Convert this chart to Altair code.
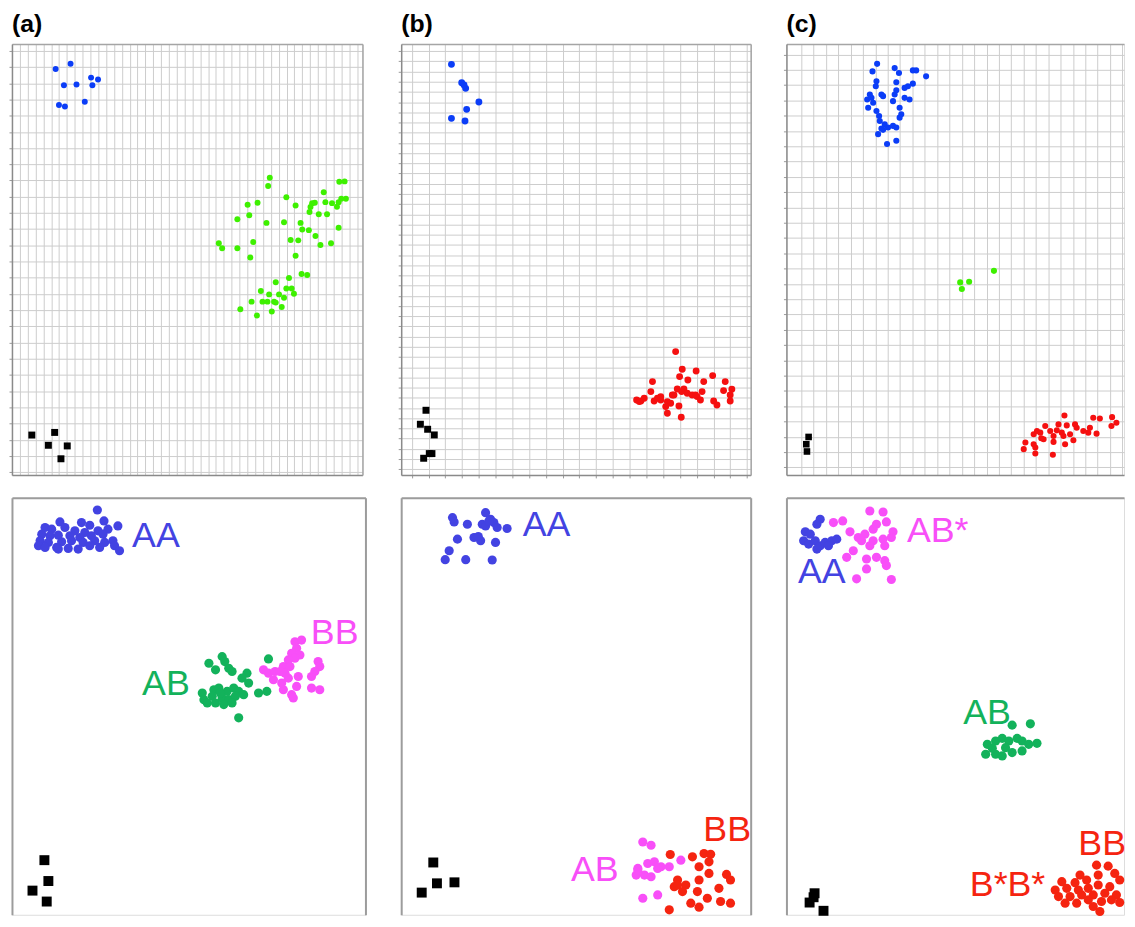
import altair as alt
import pandas as pd

# ---------------- data (signal units; y measured upward) ----------------
# Top (a)
TA_XX_X = [132, 177, 157, 195, 239, 260, 243, 220, 142, 160]
TA_XX_Y = [1232, 1248, 1183, 1185, 1206, 1200, 1183, 1133, 1123, 1118]
TA_XY_X = [779, 774, 989, 1005, 942, 829, 712, 742, 857, 907, 915, 947, 967, 987, 1009, 995, 902, 982, 899, 927,
           952, 717, 681, 769, 822, 872, 877, 897, 987, 917, 842, 865, 932, 964, 729, 625, 635, 681, 720, 857,
           875, 892, 837, 797, 829, 845, 752, 777, 807, 852, 822, 724, 757, 772, 792, 815, 785, 690, 740, 797]
TA_XY_Y = [902, 877, 890, 891, 858, 843, 820, 826, 818, 825, 826, 828, 825, 828, 838, 838, 813, 814, 798, 791,
           791, 788, 776, 765, 767, 765, 745, 743, 750, 725, 713, 712, 698, 703, 707, 703, 688, 688, 660, 665,
           610, 607, 598, 585, 566, 566, 558, 548, 548, 550, 538, 526, 526, 526, 526, 510, 496, 503, 484, 523]
TA_NTC_X = [60, 129, 110, 167, 148]
TA_NTC_Y = [121, 129, 90, 88, 49]

# Top (b)
TB_XX_X = [152, 183, 195, 190, 235, 198, 152, 193]
TB_XX_Y = [1232, 1177, 1160, 1170, 1119, 1097, 1070, 1062]
TB_YY_X = [830, 850, 892, 942, 842, 867, 760, 915, 980, 755, 835, 855, 848, 825, 865, 880, 910, 975, 1000, 785,
           712, 725, 735, 765, 785, 805, 895, 905, 945, 955, 995, 995, 815, 840, 805, 847, 890, 820, 720, 775, 800]
TB_YY_Y = [370, 317, 312, 298, 295, 285, 280, 280, 280, 250, 258, 258, 250, 240, 245, 240, 250, 253, 257, 235,
           225, 222, 230, 222, 225, 220, 235, 225, 222, 210, 240, 222, 215, 207, 185, 173, 240, 240, 220, 230, 205]
TB_NTC_X = [75, 58, 80, 100, 68, 85, 93]
TB_NTC_Y = [194, 152, 137, 120, 50, 64, 64]

# Top (c)
TC_XX_X = [274, 260, 327, 340, 382, 392, 422, 272, 332, 382, 367, 357, 270, 252, 287, 292, 332, 327, 244, 257,
           262, 322, 357, 372, 342, 347, 342, 247, 272, 280, 282, 297, 307, 322, 332, 292, 277, 332, 304, 287]
TC_XX_Y = [1245, 1222, 1232, 1217, 1225, 1225, 1207, 1192, 1189, 1185, 1177, 1172, 1177, 1152, 1152, 1147, 1165,
           1152, 1137, 1142, 1127, 1132, 1142, 1137, 1112, 1092, 1082, 1112, 1102, 1087, 1072, 1062, 1052, 1057,
           1052, 1045, 1032, 1012, 1002, 1049]
TC_XY_X = [525, 552, 530, 627]
TC_XY_Y = [583, 585, 563, 618]
TC_YY_X = [840, 927, 947, 984, 997, 982, 822, 847, 872, 782, 917, 912, 937, 757, 767, 797, 832, 857, 877, 747,
           777, 807, 837, 722, 747, 807, 842, 867, 717, 752, 752, 805, 770, 817, 897]
TC_YY_Y = [180, 173, 171, 175, 158, 148, 153, 150, 153, 148, 143, 128, 125, 133, 128, 133, 128, 123, 143, 123,
           108, 118, 118, 98, 93, 100, 93, 105, 78, 83, 65, 61, 111, 135, 133]
TC_NTC_X = [67, 60, 62]
TC_NTC_Y = [115, 93, 71]

# Bottom (a)
BA_AA_X = [258, 145, 210, 278, 235, 100, 120, 160, 190, 220, 260, 290, 320, 90, 115, 140, 175, 205, 240, 275,
           85, 110, 150, 180, 215, 250, 280, 305, 80, 135, 170, 200, 235, 265, 310, 325, 140, 100]
BA_AA_Y = [1249, 1213, 1211, 1216, 1203, 1196, 1191, 1196, 1186, 1181, 1186, 1191, 1201, 1176, 1171, 1173, 1171,
           1166, 1171, 1176, 1156, 1151, 1153, 1156, 1151, 1156, 1151, 1156, 1141, 1136, 1133, 1131, 1141, 1136,
           1141, 1126, 1131, 1136]
BA_AB_X = [595, 635, 643, 615, 655, 665, 710, 695, 775, 715, 575, 610, 625, 650, 670, 685, 580, 605, 615, 635,
           655, 675, 700, 745, 770, 685, 590, 640, 665, 630]
BA_AB_Y = [786, 806, 791, 766, 771, 761, 756, 741, 799, 726, 696, 706, 711, 701, 711, 701, 676, 686, 666, 681,
           676, 686, 691, 696, 701, 621, 666, 661, 666, 696]
BA_BB_X = [855, 875, 860, 845, 870, 855, 835, 820, 840, 760, 775, 795, 810, 825, 835, 790, 865, 905, 925, 930,
           915, 820, 845, 860, 905, 930, 815, 850]
BA_BB_Y = [851, 856, 831, 816, 811, 801, 796, 776, 776, 766, 756, 761, 761, 756, 741, 736, 746, 746, 791, 776,
           761, 706, 691, 716, 711, 706, 726, 681]
BA_NTC_X = [98, 110, 62, 105]
BA_NTC_Y = [191, 128, 99, 66]
BA_LABELS = ["AA", "AB", "BB"]
BA_LABEL_GRP = ["AA", "AB", "BB"]
BA_LABEL_X = [363, 393, 903]
BA_LABEL_Y = [1138, 691, 844]

# Bottom (b)
BB_AA_X = [155, 160, 200, 255, 245, 270, 280, 290, 320, 255, 170, 220, 240, 285, 145, 133, 195, 275, 265, 233]
BB_AA_Y = [1226, 1213, 1206, 1241, 1206, 1221, 1211, 1196, 1193, 1201, 1161, 1166, 1156, 1151, 1126, 1099, 1099,
           1098, 1216, 1169]
BB_AB_X = [730, 755, 745, 765, 785, 810, 845, 715, 710, 735, 755, 775, 730, 775, 715]
BB_AB_Y = [246, 236, 181, 186, 171, 171, 191, 166, 146, 146, 141, 166, 76, 86, 161]
BB_BB_X = [813, 880, 915, 935, 900, 930, 930, 983, 995, 835, 860, 825, 850, 900, 895, 960, 925, 875, 900, 965,
           995, 810, 835]
BB_BB_Y = [208, 201, 211, 209, 171, 186, 151, 148, 131, 131, 116, 111, 96, 131, 96, 106, 76, 61, 49, 66, 61, 41, 116]
BB_NTC_X = [97, 108, 161, 62]
BB_NTC_Y = [184, 121, 124, 93]
BB_LABELS = ["AA", "AB", "BB"]
BB_LABEL_GRP = ["AA", "AB", "BB"]
BB_LABEL_X = [367, 513, 913]
BB_LABEL_Y = [1169, 128, 248]

# Bottom (c)
BC_AA_X = [102, 92, 57, 72, 52, 67, 87, 102, 117, 137, 152, 92, 127]
BC_AA_Y = [1221, 1206, 1183, 1176, 1156, 1146, 1156, 1141, 1151, 1156, 1161, 1131, 1141]
BC_ABS_X = [252, 292, 142, 170, 192, 217, 237, 262, 272, 302, 322, 317, 227, 262, 292, 297, 202, 182, 242, 272,
            297, 302, 242, 212, 317, 252]
BC_ABS_Y = [1246, 1243, 1211, 1216, 1183, 1166, 1176, 1191, 1206, 1213, 1183, 1166, 1156, 1156, 1161, 1141, 1126,
            1106, 1101, 1106, 1096, 1081, 1071, 1041, 1039, 1141]
BC_AB_X = [682, 737, 607, 632, 652, 672, 697, 712, 732, 757, 602, 632, 652, 682, 712, 662, 622]
BC_AB_Y = [599, 603, 541, 551, 559, 551, 559, 551, 541, 544, 511, 511, 506, 516, 521, 531, 529]
BC_BB_X = [937, 972, 887, 942, 992, 1007, 832, 872, 907, 812, 847, 882, 912, 942, 977, 822, 857, 892, 927, 962,
           997, 842, 877, 912, 952, 1007, 982, 947, 927]
BC_BB_Y = [176, 173, 146, 146, 151, 131, 126, 123, 131, 101, 106, 101, 106, 116, 111, 81, 81, 86, 86, 91, 86, 61,
           61, 71, 66, 63, 71, 36, 51]
BC_NTC_X = [85, 82, 70, 112]
BC_NTC_Y = [91, 79, 63, 38]
BC_LABELS = ["AA", "AB*", "AB", "BB", "B*B*"]
BC_LABEL_GRP = ["AA", "AB*", "AB", "BB", "BB"]
BC_LABEL_X = [35, 364, 534, 882, 554]
BC_LABEL_Y = [1028, 1151, 603, 206, 83]

# ---------------- styling ----------------
TOP_BLUE, TOP_GREEN, TOP_RED = "#0b3df7", "#3ef000", "#f51010"
B_BLUE, B_GREEN, B_MAG, B_RED = "#4343e2", "#13b25b", "#f84ff8", "#f52410"
GRID = "#cdcdcd"
FONT = "Liberation Sans"


def frame(xs, ys, grp):
    return pd.DataFrame({"x": xs, "y": ys, "grp": grp})


def cat(*parts):
    return pd.concat(parts, ignore_index=True)


def axis(orient, values=None, domain=True, dcolor="#8a8a8a", dwidth=1.5, ticks=False):
    if not domain and not values:
        return None
    kw = dict(orient=orient, labels=False, title=None, domain=domain, domainColor=dcolor,
              domainWidth=dwidth, ticks=ticks, tickColor="#9a9a9a", tickSize=3, tickWidth=1)
    if values:
        kw.update(values=values, grid=True, gridColor=GRID, gridWidth=1, gridOpacity=1)
    else:
        kw.update(grid=False)
    return alt.Axis(**kw)


def panel(pts, ntc, W, H, xdom, ydom, cdom, crange, size, sqsize,
          gx=None, gy=None, left_ticks=False, bottom_ticks=False,
          sides=("l", "b", "t", "r"), side_color="#8a8a8a", side_color2="#a5a5a5",
          dwidth=1.5, labels=None, title=None):
    xs = alt.Scale(domain=xdom, nice=False, zero=False)
    ys = alt.Scale(domain=ydom, nice=False, zero=False)
    cs = alt.Scale(domain=cdom, range=crange)
    circ = alt.Chart(pts).mark_circle(size=size, opacity=1).encode(
        x=alt.X("x:Q", scale=xs, axis=axis("bottom", gx, "b" in sides, side_color, dwidth, bottom_ticks)),
        y=alt.Y("y:Q", scale=ys, axis=axis("left", gy, "l" in sides, side_color, dwidth, left_ticks)),
        color=alt.Color("grp:N", scale=cs, legend=None),
    )
    sq = alt.Chart(ntc).mark_square(size=sqsize, color="black", opacity=1).encode(
        x=alt.X("x:Q", scale=xs, axis=axis("top", None, "t" in sides, side_color2, dwidth)),
        y=alt.Y("y:Q", scale=ys, axis=axis("right", None, "r" in sides, side_color2, dwidth)),
    )
    layers = [circ, sq]
    if labels is not None:
        txt = alt.Chart(labels).mark_text(align="left", baseline="alphabetic", font=FONT,
                                          fontSize=36).encode(
            x=alt.X("x:Q", scale=xs, axis=None),
            y=alt.Y("y:Q", scale=ys, axis=None),
            text="label:N",
            color=alt.Color("grp:N", scale=cs, legend=None),
        )
        layers.append(txt)
    ch = alt.layer(*layers).resolve_axis(x="independent", y="independent").properties(width=W, height=H)
    if title:
        ch = ch.properties(title=alt.TitleParams(title, anchor="start", frame="group", fontSize=25,
                                                 fontWeight="bold", font=FONT, color="black", offset=7))
    return ch


TOP_H = 434
BOT_H = 420

# top (a)
ta = panel(cat(frame(TA_XX_X, TA_XX_Y, "X:X"), frame(TA_XY_X, TA_XY_Y, "X:Y")),
           frame(TA_NTC_X, TA_NTC_Y, "NTC"), 353, TOP_H, [0, 1059], [0, 1308],
           ["X:X", "X:Y", "Y:Y"], [TOP_BLUE, TOP_GREEN, TOP_RED], 36, 49,
           gx=[round(23.7 * k, 1) for k in range(45)], gy=[round(8 + 49.2 * k, 1) for k in range(27)],
           left_ticks=True, title="(a)")
# top (b)
tb = panel(cat(frame(TB_XX_X, TB_XX_Y, "X:X"), frame(TB_YY_X, TB_YY_Y, "Y:Y")),
           frame(TB_NTC_X, TB_NTC_Y, "NTC"), 352, TOP_H, [0, 1057], [0, 1293],
           ["X:X", "X:Y", "Y:Y"], [TOP_BLUE, TOP_GREEN, TOP_RED], 48, 49,
           gx=[round(32 + 50.7 * k, 1) for k in range(21)], gy=[round(17 + 30.6 * k, 1) for k in range(42)],
           left_ticks=True, bottom_ticks=True, title="(b)")
# top (c)
tc = panel(cat(frame(TC_XX_X, TC_XX_Y, "X:X"), frame(TC_XY_X, TC_XY_Y, "X:Y"), frame(TC_YY_X, TC_YY_Y, "Y:Y")),
           frame(TC_NTC_X, TC_NTC_Y, "NTC"), 340, TOP_H, [0, 1020], [0, 1305],
           ["X:X", "X:Y", "Y:Y"], [TOP_BLUE, TOP_GREEN, TOP_RED], 38, 44,
           gx=[round(45 + 37.3 * k, 1) for k in range(27)], gy=[round(23 + 46.3 * k, 1) for k in range(28)],
           left_ticks=True, sides=("l", "b", "t"), title="(c)")

BSIDE = "#9c9c9c"
# bottom (a)
ba = panel(cat(frame(BA_AA_X, BA_AA_Y, "AA"), frame(BA_AB_X, BA_AB_Y, "AB"), frame(BA_BB_X, BA_BB_Y, "BB")),
           frame(BA_NTC_X, BA_NTC_Y, "NTC"), 356, BOT_H, [0, 1068], [26, 1286],
           ["AA", "AB", "BB"], [B_BLUE, B_GREEN, B_MAG], 85, 100,
           sides=("l", "t", "r"), side_color=BSIDE, side_color2=BSIDE, dwidth=2,
           labels=pd.DataFrame({"label": BA_LABELS, "grp": BA_LABEL_GRP, "x": BA_LABEL_X, "y": BA_LABEL_Y}))
# bottom (b)
bb = panel(cat(frame(BB_AA_X, BB_AA_Y, "AA"), frame(BB_AB_X, BB_AB_Y, "AB"), frame(BB_BB_X, BB_BB_Y, "BB")),
           frame(BB_NTC_X, BB_NTC_Y, "NTC"), 352, BOT_H, [0, 1056], [26, 1286],
           ["AA", "AB", "BB"], [B_BLUE, B_MAG, B_RED], 85, 100,
           sides=("l", "t", "r"), side_color=BSIDE, side_color2=BSIDE, dwidth=2,
           labels=pd.DataFrame({"label": BB_LABELS, "grp": BB_LABEL_GRP, "x": BB_LABEL_X, "y": BB_LABEL_Y}))
# bottom (c)
bc = panel(cat(frame(BC_AA_X, BC_AA_Y, "AA"), frame(BC_ABS_X, BC_ABS_Y, "AB*"), frame(BC_AB_X, BC_AB_Y, "AB"),
               frame(BC_BB_X, BC_BB_Y, "BB")),
           frame(BC_NTC_X, BC_NTC_Y, "NTC"), 340, BOT_H, [0, 1020], [26, 1286],
           ["AA", "AB*", "AB", "BB"], [B_BLUE, B_MAG, B_GREEN, B_RED], 85, 100,
           sides=("l", "t"), side_color=BSIDE, side_color2=BSIDE, dwidth=2,
           labels=pd.DataFrame({"label": BC_LABELS, "grp": BC_LABEL_GRP, "x": BC_LABEL_X, "y": BC_LABEL_Y}))

chart = alt.concat(ta, tb, tc, ba, bb, bc, columns=3, spacing={"row": 23, "column": 36},
                   bounds="flush", align="each",
                   padding={"left": 0, "top": 0, "right": 0, "bottom": 0}
                   ).resolve_scale(color="independent").configure_view(stroke=None).configure(background="white")

chart.save("out.html", embed_options={"renderer": "svg", "actions": False})
